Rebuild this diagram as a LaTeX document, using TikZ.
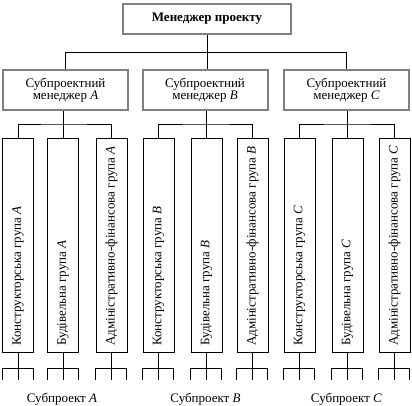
\documentclass[tikz,border=0pt]{standalone}
\usepackage{fontspec}
\setmainfont{Liberation Serif}
\definecolor{boxgray}{RGB}{128,128,128}
\newcommand\mytightfont{\fontsize{13}{12}\selectfont\lineskiplimit=-20pt\relax}
\begin{document}
\begin{tikzpicture}[x=1pt,y=-1pt,
  mainbox/.style={draw=boxgray,line width=2pt,inner sep=0pt},
  grpbox/.style={draw,line width=0.9pt,minimum width=31pt,minimum height=214pt,inner sep=0pt},
  conn/.style={line width=0.9pt},
  txt/.style={font=\mytightfont},
  vtext/.style={txt,rotate=90,anchor=west,inner sep=0pt},
]
\useasboundingbox (0,0) rectangle (412,406);
\node[mainbox,minimum width=168pt,minimum height=30pt,font=\bfseries\fontsize{13}{13}\selectfont] (pm) at (207,19) {Менеджер проекту};
\node[mainbox,txt,minimum width=125pt,minimum height=40pt,align=center] (sA) at (65.5,90) {Субпроектний\\менеджер \textit{A}};
\node[mainbox,txt,minimum width=125pt,minimum height=40pt,align=center] (sB) at (205,90) {Субпроектний\\менеджер \textit{B}};
\node[mainbox,txt,minimum width=125pt,minimum height=40pt,align=center] (sC) at (346.5,90) {Субпроектний\\менеджер \textit{C}};
\coordinate (hub) at (207,52.3);
\draw[conn] (pm.south) -- (hub);
\draw[conn] (sA.north) |- (hub) -| (sC.north);
\draw[conn] (hub) -- (pm.south |- sB.north);
\foreach \s/\xa/\xb/\xc in {A/18/63/111.5, B/158.5/206.5/252.5, C/299.5/347.5/394.5}{
  \node[grpbox] (g\s1) at (\xa,245) {};
  \node[grpbox] (g\s2) at (\xb,245) {};
  \node[grpbox] (g\s3) at (\xc,245) {};
  \node[vtext] (t\s1) at (\xa,346) {Конструкторська група \textit{\s}};
  \node[vtext] (t\s2) at (\xb,346) {Будівельна група \textit{\s}};
  \node[vtext] (t\s3) at (\xc,346) {Адміністративно-фінансова група \textit{\s}};
  \coordinate (b\s) at (\xb,124);
  \draw[conn] (s\s.south -| b\s) -- (b\s);
  \draw[conn] (g\s1.north) |- (b\s) -| (g\s3.north);
  \draw[conn] (b\s) -- (g\s2.north);
  \foreach \k in {1,2,3}{
    \draw[conn] (g\s\k.south) -- ++(0,28);
    \draw[conn] (g\s\k.south west) ++(0,28) -- ++(0,-12) -- ++(31,0) -- ++(0,12);
  }
  \node[txt,inner sep=0pt] (l\s) at (\xb-1,399) {Субпроект \textit{\s}};
}
\end{tikzpicture}
\end{document}
